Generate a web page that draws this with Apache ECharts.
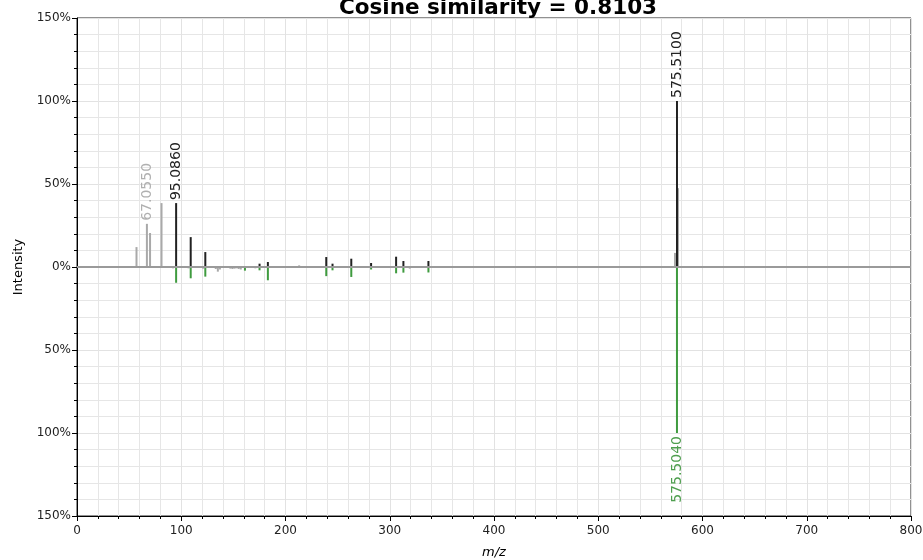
<!DOCTYPE html>
<html>
<head>
<meta charset="utf-8">
<script src="https://cdn.jsdelivr.net/npm/echarts@6/dist/echarts.min.js"></script>
<style>
  html, body { margin: 0; padding: 0; background: #fff; overflow: hidden; }
  #chart { width: 923px; height: 560px; }
</style>
</head>
<body>
<div id="chart"></div>
<script>
// Mirror plot of two MS/MS spectra (relative intensity, %).
const titleText = 'Cosine similarity = 0.8103';

// Query spectrum (top): peaks matched to the library spectrum
const topMatchedMz = [95.086, 109.07, 123.08, 175.10, 183.10, 239.10, 245.10, 263.10, 282.10, 306.10, 313.10, 337.10, 575.51];
const topMatchedInt = [38.5, 18.0, 9.0, 2.0, 3.0, 6.0, 2.0, 5.0, 2.4, 6.2, 3.6, 3.6, 100.0];

// Query spectrum (top): unmatched peaks
const topOtherMz = [57.07, 67.055, 70.07, 81.07, 213.10, 573.60, 576.51];
const topOtherInt = [12.0, 26.0, 20.5, 38.5, 1.0, 8.5, 47.5];

// Library spectrum (bottom): matched peaks
const botMatchedMz = [95.08, 109.07, 123.08, 161.10, 175.10, 183.10, 239.10, 245.10, 263.10, 282.10, 306.10, 313.10, 337.10, 575.504];
const botMatchedInt = [9.5, 6.8, 5.8, 2.2, 2.0, 8.0, 5.5, 2.0, 6.0, 1.5, 3.8, 3.4, 3.3, 100.0];

// Library spectrum (bottom): unmatched peaks
const botOtherMz = [92.05, 107.05, 121.06, 133.10, 135.10, 137.10, 147.10, 149.10, 151.10, 153.10, 155.10, 157.10, 171.10, 319.20];
const botOtherInt = [0.8, 0.8, 1.0, 1.2, 2.8, 1.5, 1.0, 1.2, 1.0, 0.8, 1.2, 1.5, 0.8, 1.0];

// Annotated peaks: m/z, intensity, text, side (1 = top, -1 = bottom), colour key
const annotMz = [575.51, 95.086, 67.055, 575.504];
const annotInt = [100.0, 38.5, 26.0, 100.0];
const annotText = ['575.5100', '95.0860', '67.0550', '575.5040'];
const annotSide = [1, 1, 1, -1];
const annotColorKey = ['black', 'black', 'gray', 'green'];

const xTicks = [0, 100, 200, 300, 400, 500, 600, 700, 800];
const yTicks = [-150, -100, -50, 0, 50, 100, 150];

const COLORS = { black: '#212121', gray: '#a9a9a9', green: '#3f9b3f', greenText: '#4f9f4f', grayText: '#b0b0b0' };

function zip(a, b) { return a.map((v, i) => [v, b[i]]); }

function peakSeries(name, mz, inten, sign, color) {
  return {
    name: name,
    type: 'custom',
    data: zip(mz, inten),
    clip: false,
    z: 3,
    renderItem: function (params, api) {
      const m = api.value(0);
      const v = api.value(1) * sign;
      const p0 = api.coord([m, 0]);
      const p1 = api.coord([m, v]);
      return {
        type: 'line',
        shape: { x1: p0[0], y1: p0[1], x2: p1[0], y2: p1[1] },
        style: { stroke: color, lineWidth: 2 }
      };
    }
  };
}

const annotData = annotMz.map((m, i) => [m, annotInt[i] * annotSide[i], i]);

const chart = echarts.init(document.getElementById('chart'), null, { renderer: 'canvas' });

chart.setOption({
  animation: false,
  backgroundColor: '#ffffff',
  title: {
    text: titleText,
    left: 493,
    textAlign: 'center',
    top: -8,
    textStyle: { fontFamily: 'DejaVu Sans', fontSize: 21.5, fontWeight: 'bold', color: '#000' }
  },
  grid: {
    left: 77, right: 12, top: 18, bottom: 44,
    outerBoundsMode: 'none',
    containLabel: false,
    show: true, borderColor: '#222', borderWidth: 1, backgroundColor: 'transparent'
  },
  xAxis: {
    type: 'value',
    min: xTicks[0],
    max: xTicks[xTicks.length - 1],
    interval: 100,
    name: 'm/z',
    nameLocation: 'middle',
    nameGap: 30,
    nameTextStyle: { fontFamily: 'DejaVu Sans', fontSize: 13, fontStyle: 'italic', color: '#000' },
    axisLine: { onZero: false, lineStyle: { color: '#000', width: 1 } },
    axisTick: { show: true, length: 5, lineStyle: { color: '#000' } },
    minorTick: { show: true, splitNumber: 5, length: 3, lineStyle: { color: '#000' } },
    axisLabel: { fontFamily: 'DejaVu Sans', fontSize: 12, color: '#222', margin: 9 },
    splitLine: { show: true, lineStyle: { color: '#e2e2e2', width: 1 } },
    minorSplitLine: { show: true, lineStyle: { color: '#e6e6e6', width: 1 } }
  },
  yAxis: {
    type: 'value',
    min: yTicks[0],
    max: yTicks[yTicks.length - 1],
    interval: 50,
    name: 'Intensity',
    nameLocation: 'middle',
    nameGap: 52,
    nameTextStyle: { fontFamily: 'DejaVu Sans', fontSize: 13, color: '#000' },
    axisLine: { onZero: false, lineStyle: { color: '#000', width: 1 } },
    axisTick: { show: true, length: 5, lineStyle: { color: '#000' } },
    minorTick: { show: true, splitNumber: 5, length: 3, lineStyle: { color: '#000' } },
    axisLabel: {
      fontFamily: 'DejaVu Sans', fontSize: 12, color: '#222', margin: 6,
      formatter: function (v) { return Math.abs(v) + '%'; }
    },
    splitLine: { show: true, lineStyle: { color: '#e2e2e2', width: 1 } },
    minorSplitLine: { show: true, lineStyle: { color: '#e6e6e6', width: 1 } }
  },
  series: [
    peakSeries('top-other', topOtherMz, topOtherInt, 1, COLORS.gray),
    peakSeries('bottom-other', botOtherMz, botOtherInt, -1, COLORS.gray),
    peakSeries('top-matched', topMatchedMz, topMatchedInt, 1, COLORS.black),
    peakSeries('bottom-matched', botMatchedMz, botMatchedInt, -1, COLORS.green),
    {
      // zero baseline between the two spectra
      name: 'baseline',
      type: 'line',
      data: [[xTicks[0], 0], [xTicks[xTicks.length - 1], 0]],
      symbol: 'none',
      z: 4,
      lineStyle: { color: '#9a9a9a', width: 2 }
    },
    {
      name: 'annotations',
      type: 'custom',
      data: annotData,
      clip: false,
      z: 5,
      renderItem: function (params, api) {
        const m = api.value(0);
        const v = api.value(1);
        const idx = api.value(2);
        const p = api.coord([m, v]);
        const up = annotSide[idx] > 0;
        const key = annotColorKey[idx];
        const fill = key === 'green' ? COLORS.greenText : key === 'gray' ? COLORS.grayText : '#222';
        return {
          type: 'text',
          x: p[0],
          y: up ? p[1] - 3 : p[1] + 3,
          rotation: Math.PI / 2,
          style: {
            text: annotText[idx],
            fill: fill,
            font: '14px "DejaVu Sans"',
            align: up ? 'left' : 'right',
            verticalAlign: 'middle'
          }
        };
      }
    }
  ]
});
</script>
</body>
</html>
